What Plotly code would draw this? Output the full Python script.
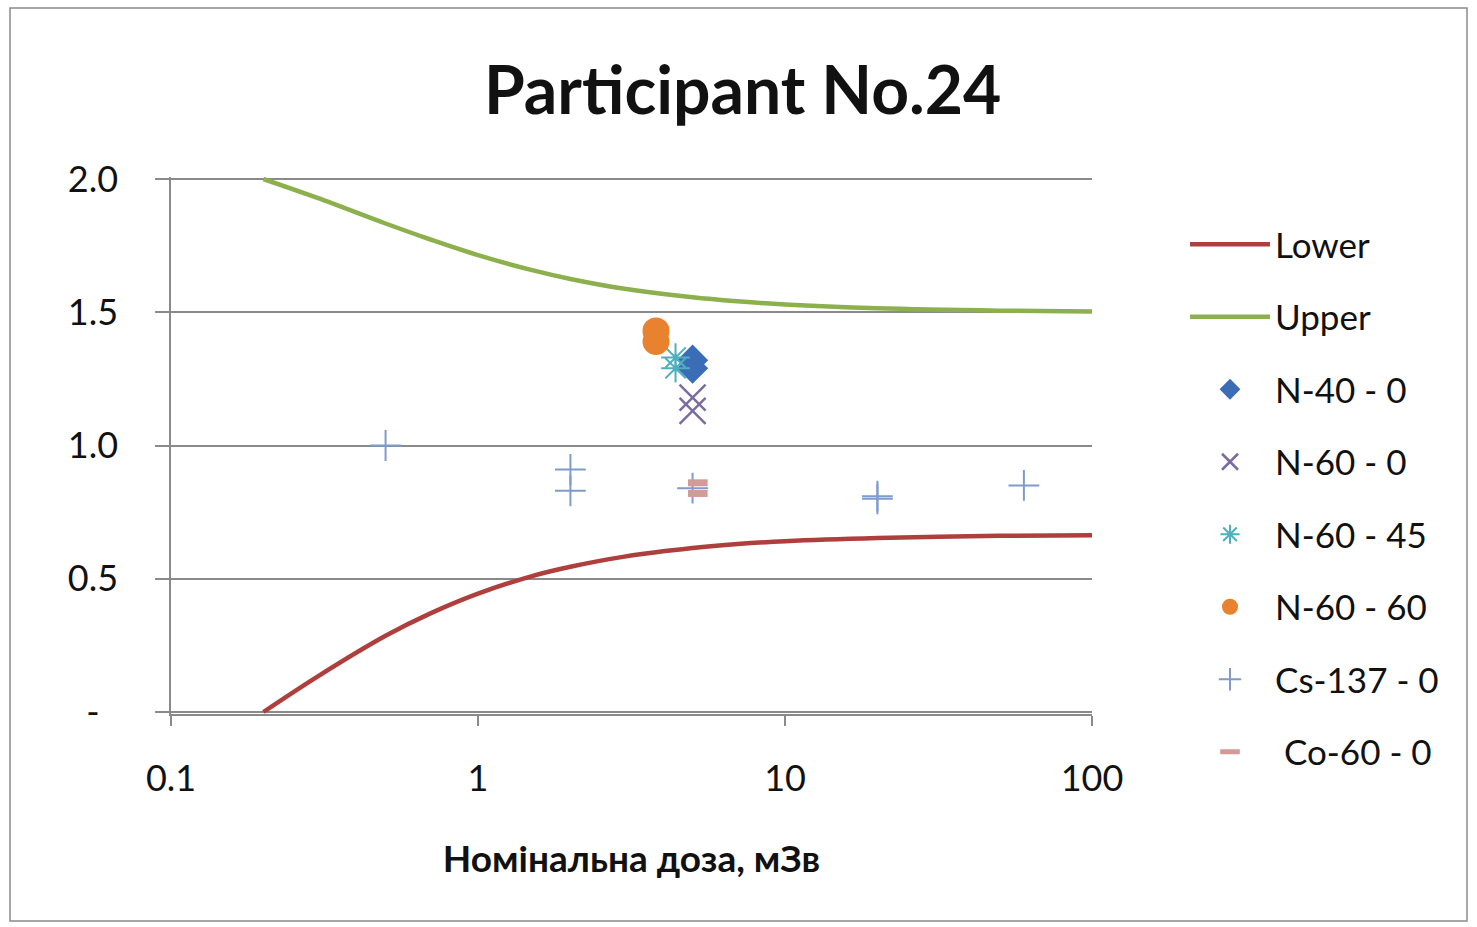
import plotly.graph_objects as go

# Acceptance limits (trumpet curves) vs nominal dose
dose_curve = [0.2, 0.3, 0.5, 0.7, 1, 1.5, 2, 3, 5, 7, 10, 20, 50, 100]
lower_vals = [0.0, 0.133, 0.286, 0.370, 0.444, 0.510, 0.545, 0.583, 0.615, 0.630, 0.641, 0.653, 0.661, 0.663]
upper_vals = [2.0, 1.929, 1.833, 1.773, 1.714, 1.658, 1.625, 1.588, 1.556, 1.541, 1.529, 1.515, 1.506, 1.503]

# Measured response ratios
n40_0_x = [5, 5]
n40_0_y = [1.32, 1.29]
n60_0_x = [5, 5]
n60_0_y = [1.18, 1.13]
n60_45_x = [4.4, 4.4]
n60_45_y = [1.33, 1.29]
n60_60_x = [3.8, 3.8]
n60_60_y = [1.43, 1.39]
cs137_x = [0.5, 2, 2, 5, 20, 20, 60]
cs137_y = [1.0, 0.91, 0.83, 0.84, 0.81, 0.80, 0.85]
co60_x = [5.2, 5.2]
co60_y = [0.86, 0.82]

x_ticks = [0.1, 1, 10, 100]
x_tick_text = ["0.1", "1", "10", "100"]
y_ticks = [0, 0.5, 1.0, 1.5, 2.0]
y_tick_text = ["-\u00a0\u00a0", "0.5", "1.0", "1.5", "2.0"]

FONT = "Lato"
W, H = 1477, 927
L, R, T, B = 171, 1092, 177, 714

fig = go.Figure()

fig.add_trace(go.Scatter(x=dose_curve, y=lower_vals, mode="lines", name="Lower",
                         line=dict(color="#AE3F3D", width=4.5, shape="spline"),
                         legendgroup="g1"))
fig.add_trace(go.Scatter(x=dose_curve, y=upper_vals, mode="lines", name="Upper",
                         line=dict(color="#8DB04F", width=4.5, shape="spline"),
                         legendgroup="g2"))
fig.add_trace(go.Scatter(x=n40_0_x, y=n40_0_y, mode="markers", name="N-40 - 0",
                         marker=dict(symbol="diamond", size=24, color="#3A6DB5"),
                         legendgroup="g3"))
fig.add_trace(go.Scatter(x=n60_0_x, y=n60_0_y, mode="markers", name="N-60 - 0",
                         marker=dict(symbol="x-thin-open", size=26, color="#7B6BA0",
                                     line=dict(width=2.5)),
                         legendgroup="g4"))
fig.add_trace(go.Scatter(x=n60_45_x, y=n60_45_y, mode="markers", name="N-60 - 45",
                         marker=dict(symbol="asterisk-open", size=24, color="#4DAFC0",
                                     line=dict(width=2)),
                         legendgroup="g5"))
fig.add_trace(go.Scatter(x=n60_60_x, y=n60_60_y, mode="markers", name="N-60 - 60",
                         marker=dict(symbol="circle", size=27, color="#E8822F"),
                         legendgroup="g6"))
fig.add_trace(go.Scatter(x=cs137_x, y=cs137_y, mode="markers", name="Cs-137 - 0",
                         marker=dict(symbol="cross-thin-open", size=22, color="#7E9CCB",
                                     line=dict(width=2)),
                         legendgroup="g7"))
fig.add_trace(go.Scatter(x=co60_x, y=co60_y, mode="markers", name="\u00a0Co-60 - 0",
                         marker=dict(symbol="line-ew-open", size=14, color="#D39A98",
                                     line=dict(width=7)),
                         legendgroup="g8"))

pad = 2.0 * ((B - T) / 533.0 - 1) / 2

fig.update_layout(
    width=W, height=H,
    margin=dict(l=L, r=W - R, t=T, b=H - B, autoexpand=False),
    paper_bgcolor="white", plot_bgcolor="white",
    font=dict(family=FONT, color="#111111", size=35),
    showlegend=True,
    legend=dict(x=(1185 - L) / (R - L), xanchor="left", y=(B - 215) / (B - T), yanchor="top",
                font=dict(family=FONT, size=35, color="#111111"),
                itemwidth=80, tracegroupgap=24, traceorder="grouped",
                maxheight=1000, bgcolor="rgba(0,0,0,0)"),
    xaxis=dict(type="log", range=[-1, 2], tickvals=x_ticks, ticktext=x_tick_text,
               showgrid=False, showline=True, linecolor="#8a8a8a", linewidth=1.5,
               ticks="outside", ticklen=10, tickcolor="#8a8a8a", tickwidth=1.5,
               ticklabelstandoff=22, zeroline=False,
               tickfont=dict(family=FONT, size=36, color="#111111"),
               title=dict(text="<b>Номінальна доза, мЗв</b>", standoff=48,
                          font=dict(family=FONT, size=37, color="#111111"))),
    yaxis=dict(range=[-pad, 2 + pad], tickvals=y_ticks, ticktext=y_tick_text,
               showgrid=True, gridcolor="#8a8a8a", gridwidth=1.5,
               zeroline=True, zerolinecolor="#8a8a8a", zerolinewidth=1.5,
               showline=True, linecolor="#8a8a8a", linewidth=1.5,
               ticks="outside", ticklen=14, tickcolor="#8a8a8a", tickwidth=1.5,
               ticklabelstandoff=30,
               tickfont=dict(family=FONT, size=36, color="#111111")),
    annotations=[dict(text="<b>Participant No.24</b>", xref="paper", yref="paper",
                      x=(742 - L) / (R - L), y=(B - 88) / (B - T),
                      xanchor="center", yanchor="middle", showarrow=False,
                      font=dict(family=FONT, size=66, color="#111111"))],
    shapes=[dict(type="rect", xref="paper", yref="paper",
                 x0=(10 - L) / (R - L), x1=(1467 - L) / (R - L),
                 y0=(B - 921) / (B - T), y1=(B - 8) / (B - T),
                 line=dict(color="#8a8a8a", width=1.5), layer="below")],
)

fig.write_html("out.html")
